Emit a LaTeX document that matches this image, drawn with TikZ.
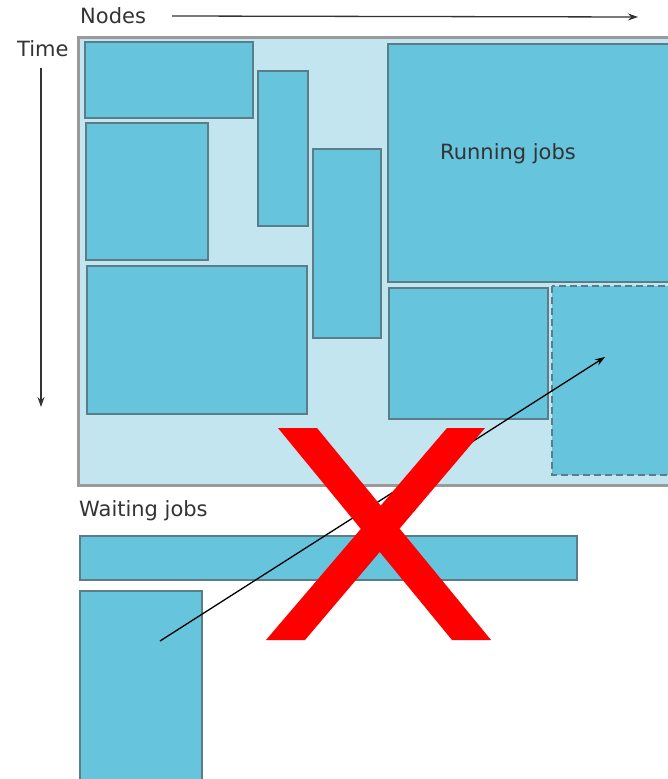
\documentclass[tikz,border=0pt]{standalone}
\usepackage{fontspec}
\setmainfont{DejaVu Sans}
\definecolor{jobblue}{HTML}{66C4DD}
\definecolor{jobedge}{HTML}{5A7D88}
\definecolor{clusterblue}{HTML}{C2E5EF}
\definecolor{clusteredge}{HTML}{9A9A9A}
\definecolor{crossred}{HTML}{FF0000}
\usetikzlibrary{arrows.meta,positioning}

\begin{document}
\begin{tikzpicture}[x=1pt,y=-1pt,
    job/.style={fill=jobblue,draw=jobedge,line width=1.2pt},
    label/.style={font=\fontsize{21}{24}\selectfont,text=black!80,inner sep=0pt},
    axis/.style={-{Stealth[length=10pt,width=7pt]},line width=1.3pt,draw=black!80}]
  \useasboundingbox (0,0) rectangle (668,779);
  \clip (0,0) rectangle (668,779);
  % axes
  \node[label,anchor=west] (nodes) at (80,16) {Nodes};
  \node[label,anchor=west] (time) at (17,49) {Time};
  \coordinate (nodesend) at (638,17);
  \coordinate (timeend) at (41,407);
  \draw[axis] (nodes.east)++(26,0) -- (nodesend);
  \draw[axis] (41,68) -- (timeend);
  % cluster
  \draw[fill=clusterblue,draw=clusteredge,line width=3pt] (78,37) rectangle (700,485);
  \draw[job] (85,42) rectangle (253,118);
  \draw[job] (86,123) rectangle (208,260);
  \draw[job] (258,71) rectangle (308,226);
  \draw[job] (313,149) rectangle (381,338);
  \draw[job] (87,266) rectangle (307,414);
  \draw[job] (388,44) rectangle (700,282);
  \node[label] (running) at (508,154) {Running jobs};
  \draw[job] (389,288) rectangle (548,419);
  \draw[job,dashed,dash pattern=on 7pt off 4pt] (552,286) rectangle (700,475);
  \coordinate (slot) at (605,357);
  % queue
  \node[label,anchor=west] (waiting) at (79,511) {Waiting jobs};
  \draw[job] (80,536) rectangle (577,580);
  \draw[job] (80,591) rectangle (202,800);
  \coordinate (nextjob) at (160,641);
  \draw[axis,draw=black] (nextjob) -- (slot);
  % cross
  \fill[crossred] (278,428) -- (317,428) -- (491,640) -- (452,640) -- cycle;
  \fill[crossred] (447,428) -- (485,428) -- (305,640) -- (266,640) -- cycle;
\end{tikzpicture}
\end{document}
